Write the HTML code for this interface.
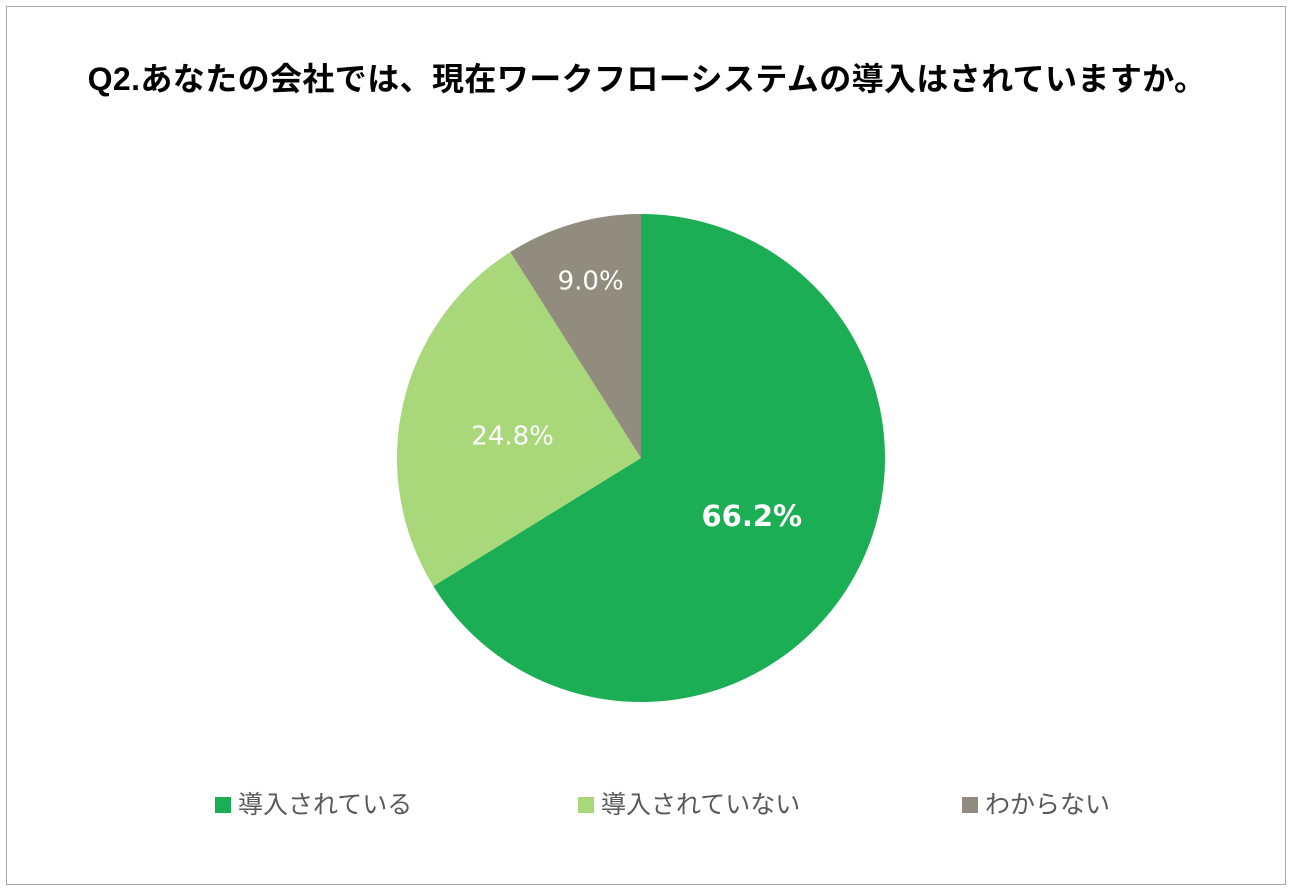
<!DOCTYPE html>
<html><head><meta charset="utf-8">
<style>
html,body{margin:0;padding:0;background:#fff;}
body{width:1294px;height:892px;position:relative;font-family:"Liberation Sans","Noto Sans CJK JP",sans-serif;}
#frame{position:absolute;left:6px;top:6px;width:1280px;height:879px;border:1px solid #a6a6a6;box-sizing:border-box;}
#title{position:absolute;left:0;top:54px;width:1294px;text-align:center;font-size:32px;font-weight:bold;color:#000;letter-spacing:0.4px;}
.leg{position:absolute;top:785px;font-size:25px;color:#595959;white-space:nowrap;}
.sw{display:inline-block;width:16px;height:16px;margin-right:7px;vertical-align:0px;}
</style></head><body>
<div id="frame"></div>
<div id="title">Q2.あなたの会社では、現在ワークフローシステムの導入はされていますか。</div>
<svg id="pie" width="1294" height="892" style="position:absolute;left:0;top:0"></svg>
<div class="leg" style="left:215px"><span class="sw" style="background:#1bae55"></span>導入されている</div>
<div class="leg" style="left:578px"><span class="sw" style="background:#a9d87a"></span>導入されていない</div>
<div class="leg" style="left:962px"><span class="sw" style="background:#918c7e"></span>わからない</div>
<script>
const categories=["導入されている","導入されていない","わからない"];
const values=[66.2,24.8,9.0];
const labels=["66.2%","24.8%","9.0%"];
const colors=["#1bae55","#a9d87a","#918c7e"];
const svg=document.getElementById('pie');
const NS="http://www.w3.org/2000/svg";
const cx=641,cy=458,r=244;
const total=values.reduce((a,b)=>a+b,0);
function pt(frac,rad){const a=frac*2*Math.PI;return [cx+rad*Math.sin(a),cy-rad*Math.cos(a)];}
let acc=0;
const lr=[0.52,0.54,0.74];
const dy=[-4,8,-3];
values.forEach((v,i)=>{
  const f0=acc/total,f1=(acc+v)/total;acc+=v;
  const p0=pt(f0,r),p1=pt(f1,r);
  const large=(f1-f0)>0.5?1:0;
  const path=document.createElementNS(NS,'path');
  path.setAttribute('d',`M${cx},${cy}L${p0[0]},${p0[1]}A${r},${r} 0 ${large} 1 ${p1[0]},${p1[1]}Z`);
  path.setAttribute('fill',colors[i]);
  
  
  svg.appendChild(path);
  const lp=pt((f0+f1)/2,r*lr[i]);
  const t=document.createElementNS(NS,'text');
  t.setAttribute('x',lp[0]);t.setAttribute('y',lp[1]+dy[i]);
  t.setAttribute('text-anchor','middle');t.setAttribute('dominant-baseline','central');
  t.setAttribute('fill','#fff');
  t.setAttribute('font-size',i===0?29:26);
  if(i===0)t.setAttribute('font-weight','bold');
  t.setAttribute('font-family','"DejaVu Sans",sans-serif');
  t.textContent=labels[i];
  
  
  svg.appendChild(t);
});
</script>
</body></html>
